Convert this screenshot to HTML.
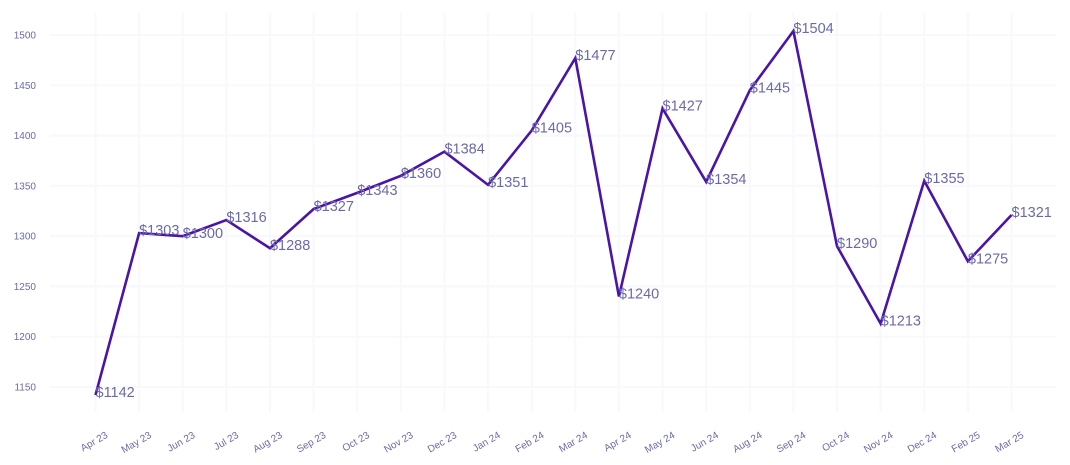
<!DOCTYPE html>
<html><head><meta charset="utf-8"><style>
body{margin:0;background:#fff;}
svg{display:block;font-family:"Liberation Sans",Arial,sans-serif;}
</style></head><body>
<svg id="chart" width="1070" height="465" viewBox="0 0 1070 465">
<g id="grid"></g>
<g id="yaxis"></g>
<g id="xaxis"></g>
<g id="series"></g>
</svg>
<script>
const categories=["Apr 23","May 23","Jun 23","Jul 23","Aug 23","Sep 23","Oct 23","Nov 23","Dec 23","Jan 24","Feb 24","Mar 24","Apr 24","May 24","Jun 24","Aug 24","Sep 24","Oct 24","Nov 24","Dec 24","Feb 25","Mar 25"];
const values=[1142,1303,1300,1316,1288,1327,1343,1360,1384,1351,1405,1477,1240,1427,1354,1445,1504,1290,1213,1355,1275,1321];
const yTicks=[1150,1200,1250,1300,1350,1400,1450,1500];
const NS="http://www.w3.org/2000/svg";
const x0=95.5,x1=1011.5;
function xs(i){return x0+(x1-x0)*i/(categories.length-1);}
function ys(v){return 387+(1150-v)*(387-35)/350;}
function mk(t,a,p){const e=document.createElementNS(NS,t);for(const k in a)e.setAttribute(k,a[k]);p.appendChild(e);return e;}
const grid=document.getElementById('grid'),ya=document.getElementById('yaxis'),xa=document.getElementById('xaxis'),se=document.getElementById('series');
yTicks.forEach(v=>{
 const l=mk('line',{x1:50,x2:1056,y1:ys(v),y2:ys(v),stroke:'#f8f8fd','stroke-width':2},grid);
 
 
 const t=mk('text',{x:36,y:ys(v)+3.5,'text-anchor':'end','font-size':10,fill:'#6b6ba8'},ya);
 t.textContent=v;
 
 
});
categories.forEach((c,i)=>{
 const l=mk('line',{x1:xs(i),x2:xs(i),y1:13,y2:412,stroke:'#f8f8fd','stroke-width':2},grid);
 
 
 const t=mk('text',{x:0,y:0,'text-anchor':'end','font-size':10,fill:'#6b6ba8',transform:`translate(${xs(i)+13},${437}) rotate(-30)`},xa);
 t.textContent=c;
 
 
});
const p=mk('polyline',{points:values.map((v,i)=>xs(i)+','+ys(v)).join(' '),fill:'none',stroke:'#4a14a8','stroke-width':2.6,'stroke-linejoin':'miter'},se);


values.forEach((v,i)=>{
 const t=mk('text',{x:xs(i),y:ys(v)+2,'font-size':14.5,fill:'#6a6aaa'},se);
 t.textContent='$'+v;
 
 
});
</script>
</body></html>
